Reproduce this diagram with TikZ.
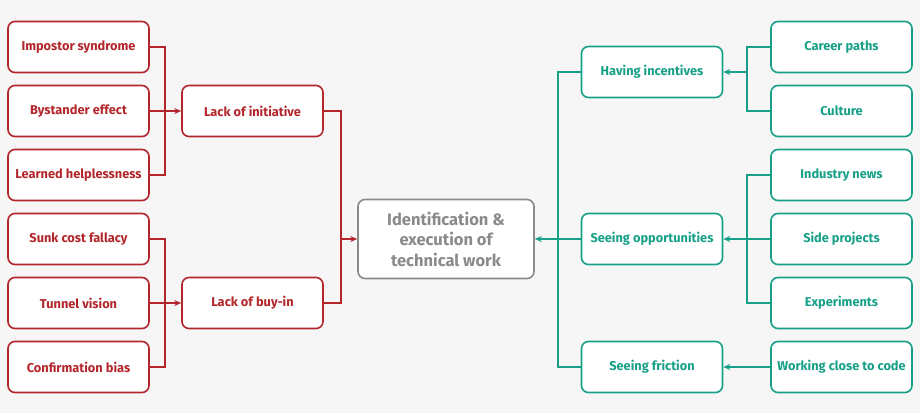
\documentclass[tikz,border=0pt]{standalone}
\usepackage{fontspec}
\setmainfont{Fira Sans}
\usetikzlibrary{arrows.meta}
\definecolor{rd}{HTML}{B3262B}
\definecolor{tl}{HTML}{17A088}
\definecolor{gr}{HTML}{8A8A8A}
\begin{document}
\begin{tikzpicture}[x=1pt,y=-1pt,
 box/.style={draw,line width=1.6pt,rounded corners=7pt,fill=white,minimum width=141pt,minimum height=51pt,font=\fontsize{12.8}{15}\selectfont\bfseries,align=center,inner sep=2pt},
 R/.style={box,draw=rd,text=rd}, T/.style={box,draw=tl,text=tl},
 lr/.style={draw=rd,line width=1.1pt}, lt/.style={draw=tl,line width=1.1pt},
 arr/.style={-{Stealth[length=7pt,width=6pt]}}]
\fill[white!96.5!black] (0,0) rectangle (920,413);
\useasboundingbox (0,0) rectangle (920,413);
\node[R] (a1) at (78.5,47) {Impostor syndrome};
\node[R] (a2) at (78.5,111) {Bystander effect};
\node[R] (a3) at (78.5,175) {Learned helplessness};
\node[R] (a4) at (78.5,239) {Sunk cost fallacy};
\node[R] (a5) at (78.5,303) {Tunnel vision};
\node[R] (a6) at (78.5,367) {Confirmation bias};
\node[R] (b1) at (252.5,111) {Lack of initiative};
\node[R] (b2) at (252.5,303) {Lack of buy-in};
\node[box,draw=gr,text=gr,minimum width=176pt,minimum height=79pt,font=\fontsize{16.5}{20.5}\selectfont\bfseries] (c) at (446,239) {Identification \&\\execution of\\technical work};
\node[T] (d1) at (652,72) {Having incentives};
\node[T] (d2) at (652,239) {Seeing opportunities};
\node[T] (d3) at (652,367) {Seeing friction};
\node[T] (e1) at (841.5,47) {Career paths};
\node[T] (e2) at (841.5,111) {Culture};
\node[T] (e3) at (841.5,175) {Industry news};
\node[T] (e4) at (841.5,239) {Side projects};
\node[T] (e5) at (841.5,303) {Experiments};
\node[T] (e6) at (841.5,367) {Working close to code};
% left brackets
\draw[lr] (a1.east) -| (165,175) -- (a3.east);
\draw[lr,arr] (a2.east) -- (b1.west);
\draw[lr] (a4.east) -| (165,367) -- (a6.east);
\draw[lr,arr] (a5.east) -- (b2.west);
\draw[lr] (b1.east) -| (341,303) -- (b2.east);
\draw[lr,arr] (341,239) -- (c.west);
% right
\draw[lt] (e1.west) -| (747,111) -- (e2.west);
\draw[lt,arr] (747,72) -- (d1.east);
\draw[lt] (e3.west) -| (747,303) -- (e5.west);
\draw[lt,arr] (e4.west) -- (d2.east);
\draw[lt,arr] (e6.west) -- (d3.east);
\draw[lt] (d1.west) -| (558,367) -- (d3.west);
\draw[lt] (d2.west) -- (558,239);
\draw[lt,arr] (558,239) -- (c.east);
\end{tikzpicture}
\end{document}
